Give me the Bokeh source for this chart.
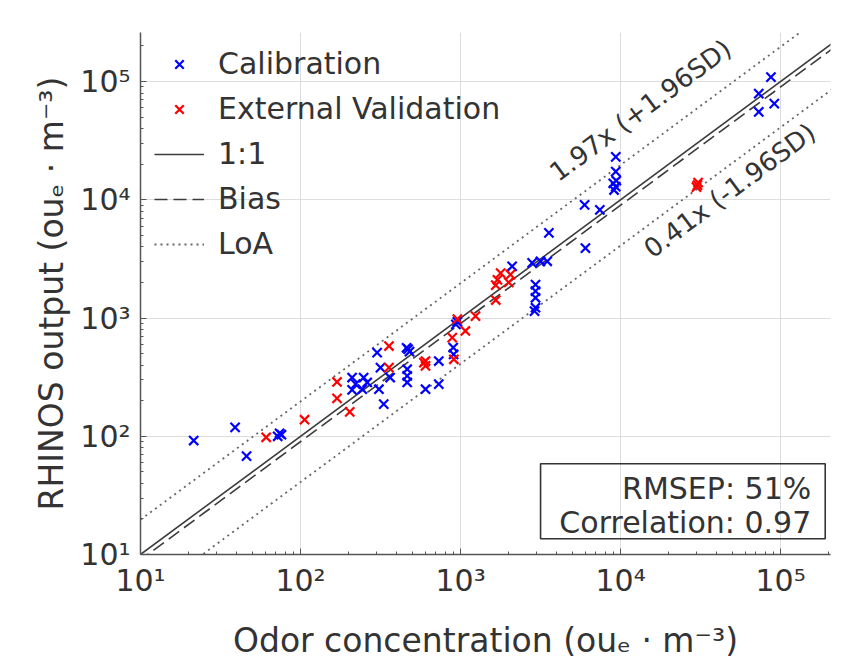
import math
import numpy as np
from bokeh.plotting import figure
from bokeh.models import FixedTicker, Label, BoxAnnotation, Legend, LegendItem, Range1d
from bokeh.embed import file_html
from bokeh.resources import INLINE

# ---------------- data ----------------
cal_x = [21.5, 39, 46, 72, 74, 76,
         210, 248, 221, 261, 210, 243, 309, 331, 301, 316, 363,
         464, 464, 464, 470, 480, 460,
         604, 731, 731,
         900, 905, 935, 955,
         2100, 2800, 3160, 3480,
         2940, 2940, 2940, 2940, 2900,
         3565, 6030, 5960, 7420,
         9330, 9330, 9000, 9330, 9100, 9400,
         73000, 87000, 91300, 73000]
cal_y = [92, 119, 68, 100, 106, 103,
         314, 314, 276, 285, 247, 250, 250, 187, 510, 381, 314,
         369, 324, 285, 545, 520, 560,
         250, 276, 433,
         563, 493, 883, 930,
         2740, 2925, 3020, 3020,
         1917, 1687, 1483, 1222, 1144,
         5250, 3900, 9060, 8220,
         23100, 17300, 13800, 12900, 12100, 14500,
         79000, 109000, 65100, 55400]

val_x = [61, 106, 169, 169, 203,
         357, 357,
         604, 604, 590,
         887, 908, 955, 1072, 1240,
         1660, 1700, 1660, 1780, 2000, 2050,
         30200, 30500, 29800]
val_y = [98, 138, 288, 209, 161,
         580, 381,
         433, 394, 420,
         683, 448, 980, 777, 1038,
         1900, 2100, 1420, 2400, 2000, 2330,
         13300, 14000, 12800]

ratio_one = 1.0
ratio_bias = 0.90
ratio_upper = 1.97
ratio_lower = 0.41

tick_vals = [10, 100, 1000, 10000, 100000]
tick_labels = ["10\u00b9", "10\u00b2", "10\u00b3", "10\u2074", "10\u2075"]

legend_labels = ["Calibration", "External Validation", "1:1", "Bias", "LoA"]
upper_text = "1.97x (+1.96SD)"
lower_text = "0.41x (-1.96SD)"
rmsep_text = "RMSEP: 51%"
corr_text = "Correlation: 0.97"
x_title = "Odor concentration (ou\u2091 \u00b7 m\u207b\u00b3)"
y_title = "RHINOS output (ou\u2091 \u00b7 m\u207b\u00b3)"

# ---------------- figure ----------------
FONT = "DejaVu Sans"
TXT = "#333333"
W, H = 835, 662
ML, MR, MT, MB = 140, 5, 32, 106
XR = (10, 2.05e5)
YR = (10, 2.6e5)

p = figure(width=W, height=H, x_axis_type="log", y_axis_type="log",
           x_range=Range1d(*XR), y_range=Range1d(*YR),
           output_backend="svg", toolbar_location=None,
           min_border_left=ML, min_border_right=MR,
           min_border_top=MT, min_border_bottom=MB)
p.outline_line_color = None
p.background_fill_color = "white"

minor = [k * 10 ** n for n in range(1, 6) for k in range(2, 10)]
for ax in (p.xaxis[0], p.yaxis[0]):
    ax.ticker = FixedTicker(ticks=tick_vals, minor_ticks=minor)
    ax.major_label_overrides = {v: t for v, t in zip(tick_vals, tick_labels)}
    ax.major_label_text_font = FONT
    ax.major_label_text_font_size = "30px"
    ax.major_label_text_color = TXT
    ax.axis_line_color = "#555555"
    ax.axis_line_width = 1.5
    ax.major_tick_in = 6
    ax.major_tick_out = 0
    ax.minor_tick_in = 3
    ax.minor_tick_out = 0
    ax.major_tick_line_color = "#555555"
    ax.minor_tick_line_color = "#555555"
    ax.axis_label_text_font = FONT
    ax.axis_label_text_font_size = "33px"
    ax.axis_label_text_font_style = "normal"
    ax.axis_label_text_color = TXT

p.xaxis.axis_label = x_title
p.yaxis.axis_label = y_title
p.xaxis.major_label_standoff = 8
p.yaxis.major_label_standoff = 10
p.xaxis.axis_label_standoff = 20
p.yaxis.axis_label_standoff = 6

p.grid.grid_line_color = "#dddddd"
p.grid.grid_line_width = 1

# ---------------- lines ----------------
lx = np.array([XR[0] * 0.5, XR[1] * 2.0])
r_one = p.line(lx, ratio_one * lx, line_color="#3c3c3c", line_width=1.6)
r_bias = p.line(lx, ratio_bias * lx, line_color="#3c3c3c", line_width=1.6, line_dash="13 6")
r_up = p.line(lx, ratio_upper * lx, line_color="#666666", line_width=1.8, line_dash="2 4")
r_lo = p.line(lx, ratio_lower * lx, line_color="#666666", line_width=1.8, line_dash="2 4")

# ---------------- points ----------------
r_cal = p.scatter(cal_x, cal_y, marker="x", size=13, line_color="#0000ff", line_width=2.2)
r_val = p.scatter(val_x, val_y, marker="x", size=13, line_color="#ff0000", line_width=2.2)

legend = Legend(items=[
    LegendItem(label=legend_labels[0], renderers=[r_cal]),
    LegendItem(label=legend_labels[1], renderers=[r_val]),
    LegendItem(label=legend_labels[2], renderers=[r_one]),
    LegendItem(label=legend_labels[3], renderers=[r_bias]),
    LegendItem(label=legend_labels[4], renderers=[r_up]),
], location="top_left")
legend.margin = 0
legend.padding = 14
legend.glyph_width = 50
legend.glyph_height = 30
legend.label_height = 30
legend.label_standoff = 14
legend.spacing = 10
legend.label_text_font = FONT
legend.label_text_font_size = "30px"
legend.label_text_color = TXT
legend.background_fill_alpha = 0
legend.border_line_alpha = 0
p.add_layout(legend)

# ---------------- annotations ----------------
fw = W - ML - MR
fh = H - MT - MB
px_per_dec_x = fw / (math.log10(XR[1]) - math.log10(XR[0]))
px_per_dec_y = fh / (math.log10(YR[1]) - math.log10(YR[0]))
ang = math.atan2(px_per_dec_y, px_per_dec_x)

p.add_layout(Label(x=13300, y=57000, text=upper_text, angle=ang,
                   text_align="center", text_baseline="middle",
                   text_font=FONT, text_font_size="26px", text_color=TXT))
p.add_layout(Label(x=48000, y=12000, text=lower_text, angle=ang,
                   text_align="center", text_baseline="middle",
                   text_font=FONT, text_font_size="26px", text_color=TXT))

box = BoxAnnotation(left=3162, right=1.9e5, bottom=13.6, top=58.5,
                    fill_alpha=0, line_color="#333333", line_width=1.6, line_alpha=1)
p.add_layout(box)
p.add_layout(Label(x=1.9e5, y=36, x_offset=-14, text=rmsep_text,
                   text_align="right", text_baseline="middle",
                   text_font=FONT, text_font_size="30px", text_color=TXT))
p.add_layout(Label(x=1.9e5, y=18.6, x_offset=-14, text=corr_text,
                   text_align="right", text_baseline="middle",
                   text_font=FONT, text_font_size="30px", text_color=TXT))

open("out.html", "w").write(file_html(p, INLINE))
